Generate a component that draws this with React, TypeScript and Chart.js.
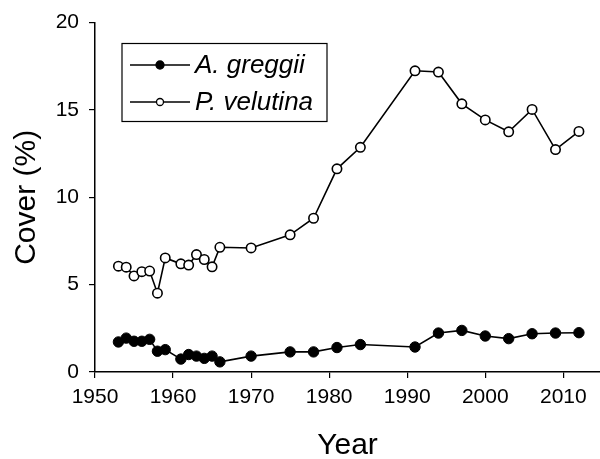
import React, { useEffect, useRef } from "react";
import { Chart, registerables } from "chart.js";

Chart.register(...registerables);

const years = [1953, 1954, 1955, 1956, 1957, 1958, 1959, 1961, 1962, 1963, 1964, 1965, 1966, 1970, 1975, 1978, 1981, 1984, 1991, 1994, 1997, 2000, 2003, 2006, 2009, 2012];
const greggii = [1.72, 1.94, 1.76, 1.76, 1.87, 1.19, 1.28, 0.74, 1.0, 0.91, 0.78, 0.91, 0.58, 0.91, 1.15, 1.15, 1.4, 1.57, 1.43, 2.23, 2.38, 2.06, 1.91, 2.19, 2.23, 2.25];
const velutina = [6.06, 6.0, 5.5, 5.74, 5.78, 4.51, 6.53, 6.19, 6.12, 6.72, 6.44, 6.02, 7.14, 7.1, 7.85, 8.8, 11.63, 12.86, 17.24, 17.17, 15.35, 14.43, 13.75, 15.03, 12.73, 13.77];
const seriesNames = ["A. greggii", "P. velutina"];
const xTicks = [1950, 1960, 1970, 1980, 1990, 2000, 2010];
const yTicks = [0, 5, 10, 15, 20];
const xTitle = "Year";
const yTitle = "Cover (%)";

const FONT = "'Liberation Sans', Arial, sans-serif";

const legendPlugin = {
  id: "boxLegend",
  afterDraw(chart: any) {
    const ctx = chart.ctx;
    ctx.save();
    ctx.strokeStyle = "#000";
    ctx.lineWidth = 1.2;
    ctx.strokeRect(122, 43.5, 205, 78);
    const rows = [65, 102];
    chart.data.datasets.forEach((ds: any, i: number) => {
      const y = rows[i];
      ctx.beginPath();
      ctx.lineWidth = 1.5;
      ctx.moveTo(130, y);
      ctx.lineTo(190, y);
      ctx.stroke();
      ctx.beginPath();
      ctx.arc(160, y, i === 0 ? 4 : 3.5, 0, Math.PI * 2);
      ctx.fillStyle = i === 0 ? "#000" : "#fff";
      ctx.fill();
      ctx.lineWidth = 1.3;
      ctx.stroke();
      ctx.fillStyle = "#000";
      ctx.font = `italic 26px ${FONT}`;
      ctx.textBaseline = "middle";
      ctx.textAlign = "left";
      ctx.fillText(ds.label, 195, y + 1);
    });
    ctx.restore();
  },
};

export default function App() {
  const ref = useRef<HTMLCanvasElement>(null);
  useEffect(() => {
    if (!ref.current) return;
    const chart = new Chart(ref.current, {
      type: "line",
      data: {
        datasets: [
          {
            label: seriesNames[0],
            data: years.map((x, i) => ({ x, y: greggii[i] })),
            borderColor: "#000",
            borderWidth: 1.6,
            backgroundColor: "#000",
            pointBackgroundColor: "#000",
            pointBorderColor: "#000",
            pointRadius: 5.2,
            pointBorderWidth: 1,
            tension: 0,
          },
          {
            label: seriesNames[1],
            data: years.map((x, i) => ({ x, y: velutina[i] })),
            borderColor: "#000",
            borderWidth: 1.6,
            backgroundColor: "#fff",
            pointBackgroundColor: "#fff",
            pointBorderColor: "#000",
            pointRadius: 4.7,
            pointBorderWidth: 1.6,
            tension: 0,
          },
        ],
      },
      options: {
        animation: false,
        responsive: false,
        layout: { autoPadding: false, padding: { top: 18, right: 0, left: 0, bottom: 0 } },
        plugins: { legend: { display: false }, tooltip: { enabled: false } },
        scales: {
          x: {
            type: "linear",
            min: 1950,
            max: 2014.7,
            afterBuildTicks: (s: any) => {
              s.ticks = xTicks.map((v) => ({ value: v }));
            },
            afterFit: (s: any) => {
              s.height = 87;
              s.paddingRight = 0;
              s.paddingLeft = 0;
            },
            grid: { drawOnChartArea: false, drawTicks: true, tickLength: 6, color: "#000", lineWidth: 1.2 },
            border: { display: true, color: "#000", width: 1.5 },
            ticks: { color: "#000", font: { family: FONT, size: 21 }, padding: 7, maxRotation: 0, autoSkip: false, callback: (v: any) => String(v) },
            title: { display: true, text: xTitle, color: "#000", font: { family: FONT, size: 30, lineHeight: 1 }, padding: { top: 0, bottom: -2 } },
          },
          y: {
            type: "linear",
            min: 0,
            max: 20,
            afterBuildTicks: (s: any) => {
              s.ticks = yTicks.map((v) => ({ value: v }));
            },
            afterFit: (s: any) => {
              s.width = 95;
            },
            grid: { drawOnChartArea: false, drawTicks: true, tickLength: 6, color: "#000", lineWidth: 1.2 },
            border: { display: true, color: "#000", width: 1.5 },
            ticks: { color: "#000", font: { family: FONT, size: 21 }, padding: 10, callback: (v: any) => String(v) },
            title: { display: true, text: yTitle, color: "#000", font: { family: FONT, size: 30, lineHeight: 1 }, padding: { top: 12, bottom: 0 } },
          },
        },
      },
      plugins: [legendPlugin],
    });
    return () => chart.destroy();
  }, []);
  return (
    <div style={{ position: "absolute", left: 0, top: 0, width: 600, height: 459, background: "#fff" }}>
      <canvas ref={ref} width={600} height={459} style={{ display: "block" }} />
    </div>
  );
}
